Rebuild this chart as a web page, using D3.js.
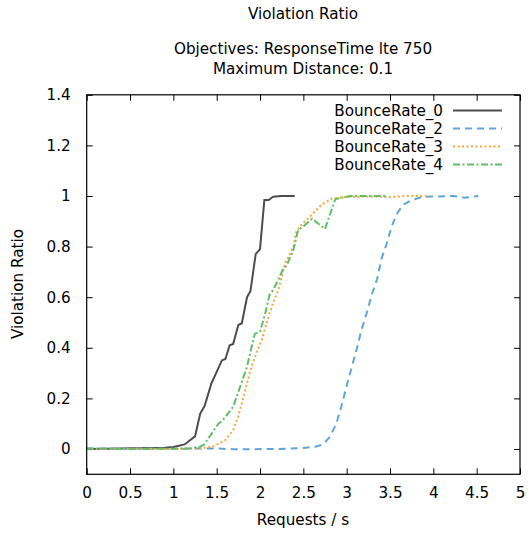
<!DOCTYPE html>
<html>
<head>
<meta charset="utf-8">
<script src="https://cdn.jsdelivr.net/npm/d3@7"></script>
<style>
  body{margin:0;background:#fff;}
  text{font-family:"DejaVu Sans",sans-serif;fill:#000;}
</style>
</head>
<body>
<svg id="chart" width="529" height="533"></svg>
<script>
// series: [requests/s, violation ratio]
var rate0=[[0,0.0],[0.25,0.001],[0.5,0.003],[0.75,0.004],[0.9,0.005],[1.0,0.008],[1.05,0.012],[1.13,0.018],[1.25,0.05],[1.31,0.14],[1.36,0.17],[1.44,0.26],[1.48,0.29],[1.56,0.35],[1.6,0.356],[1.65,0.41],[1.69,0.415],[1.75,0.49],[1.79,0.497],[1.85,0.6],[1.89,0.625],[1.95,0.77],[2.0,0.79],[2.05,0.984],[2.1,0.984],[2.15,0.997],[2.25,1.0],[2.4,1.0]];
var rate2=[[0,0.002],[0.5,0.002],[1.0,0.001],[1.5,0.002],[1.7,-0.001],[2.2,0.0],[2.5,0.004],[2.65,0.01],[2.73,0.018],[2.81,0.05],[2.88,0.1],[2.94,0.17],[3.0,0.25],[3.06,0.325],[3.12,0.4],[3.17,0.47],[3.23,0.536],[3.29,0.61],[3.35,0.67],[3.4,0.75],[3.46,0.81],[3.52,0.88],[3.58,0.93],[3.65,0.965],[3.75,0.984],[3.88,0.997],[4.23,1.0],[4.36,0.993],[4.52,1.0]];
var rate3=[[0,0.0],[0.5,0.001],[1.0,0.0],[1.3,0.002],[1.46,0.01],[1.6,0.035],[1.69,0.075],[1.74,0.12],[1.79,0.18],[1.85,0.26],[1.9,0.325],[1.96,0.38],[2.02,0.43],[2.06,0.48],[2.11,0.536],[2.15,0.576],[2.21,0.628],[2.25,0.68],[2.29,0.734],[2.35,0.774],[2.39,0.806],[2.42,0.86],[2.46,0.88],[2.52,0.9],[2.61,0.93],[2.71,0.966],[2.83,0.99],[3.0,0.997],[3.3,0.998],[3.5,0.996],[3.69,1.0],[3.95,1.0]];
var rate4=[[0,0.002],[0.5,0.0],[1.0,0.001],[1.2,0.003],[1.31,0.01],[1.35,0.016],[1.44,0.06],[1.52,0.1],[1.56,0.11],[1.63,0.14],[1.69,0.167],[1.77,0.246],[1.85,0.325],[1.9,0.4],[1.94,0.455],[2.0,0.464],[2.06,0.536],[2.11,0.61],[2.15,0.628],[2.21,0.668],[2.26,0.707],[2.31,0.727],[2.35,0.76],[2.38,0.78],[2.44,0.866],[2.5,0.88],[2.6,0.91],[2.75,0.87],[2.87,0.988],[3.04,1.0],[3.46,1.0]];

var seriesNames=['BounceRate_0','BounceRate_2','BounceRate_3','BounceRate_4'];
var seriesColors=['#4d4d4d','#5da5da','#faa43a','#60bd68'];
var seriesDash=['none','7,5','2,2.5','7,2.5,2,2.5'];
var xTicks=[0,0.5,1,1.5,2,2.5,3,3.5,4,4.5,5];
var yTicks=[0,0.2,0.4,0.6,0.8,1,1.2,1.4];

var svg=d3.select('#chart');
var pLeft=86.7,pRight=520,pTop=94.8,pBottom=474.3;
var fs='15.2px';

var x=d3.scaleLinear().domain([0,5]).range([pLeft,pRight]);
var y=d3.scaleLinear().domain([-0.1,1.4]).range([pBottom,pTop]);

// titles
svg.append('text').attr('x',303).attr('y',19).attr('text-anchor','middle').style('font-size',fs).text('Violation Ratio');
svg.append('text').attr('x',303).attr('y',54).attr('text-anchor','middle').style('font-size',fs).text('Objectives: ResponseTime lte 750');
svg.append('text').attr('x',303).attr('y',74).attr('text-anchor','middle').style('font-size',fs).text('Maximum Distance: 0.1');

// ticks, inside both sides like gnuplot
var fmt=d3.format('~g');
svg.append('g').attr('transform','translate(0,'+pBottom+')')
  .call(d3.axisBottom(x).tickValues(xTicks).tickSizeInner(-6).tickSizeOuter(0).tickPadding(13).tickFormat(fmt))
  .call(g=>g.select('.domain').remove());
svg.append('g').attr('transform','translate(0,'+pTop+')')
  .call(d3.axisTop(x).tickValues(xTicks).tickSizeInner(-6).tickSizeOuter(0).tickFormat(''))
  .call(g=>g.select('.domain').remove());
svg.append('g').attr('transform','translate('+pLeft+',0)')
  .call(d3.axisLeft(y).tickValues(yTicks).tickSizeInner(-6).tickSizeOuter(0).tickPadding(16).tickFormat(fmt))
  .call(g=>g.select('.domain').remove());
svg.append('g').attr('transform','translate('+pRight+',0)')
  .call(d3.axisRight(y).tickValues(yTicks).tickSizeInner(-6).tickSizeOuter(0).tickFormat(''))
  .call(g=>g.select('.domain').remove());
svg.selectAll('.tick text').style('font-size',fs).style('font-family','"DejaVu Sans",sans-serif').attr('fill','#000');
svg.selectAll('.tick line').attr('stroke','#000').attr('stroke-width',1);

// lines
var line=d3.line().x(d=>x(d[0])).y(d=>y(d[1]));
[rate0,rate2,rate3,rate4].forEach(function(data,i){
  svg.append('path').datum(data)
    .attr('d',line)
    .attr('fill','none')
    .attr('stroke',seriesColors[i])
    .attr('stroke-width',2)
    .attr('stroke-dasharray',seriesDash[i]);
});

// border
svg.append('rect').attr('x',pLeft).attr('y',pTop).attr('width',pRight-pLeft).attr('height',pBottom-pTop)
  .attr('fill','none').attr('stroke','#000').attr('stroke-width',1.2);

// legend
var leg=svg.append('g');
seriesNames.forEach(function(name,i){
  var ly=110.5+i*18;
  leg.append('text').attr('x',443).attr('y',ly).attr('dy','0.35em').attr('text-anchor','end').style('font-size',fs).text(name);
  leg.append('line').attr('x1',453).attr('x2',502).attr('y1',ly).attr('y2',ly)
    .attr('stroke',seriesColors[i]).attr('stroke-width',2).attr('stroke-dasharray',seriesDash[i]);
});

// axis labels
svg.append('text').attr('transform','translate(23,284) rotate(-90)').attr('text-anchor','middle').style('font-size',fs).text('Violation Ratio');
svg.append('text').attr('x',303).attr('y',525).attr('text-anchor','middle').style('font-size',fs).text('Requests / s');
</script>
</body>
</html>
